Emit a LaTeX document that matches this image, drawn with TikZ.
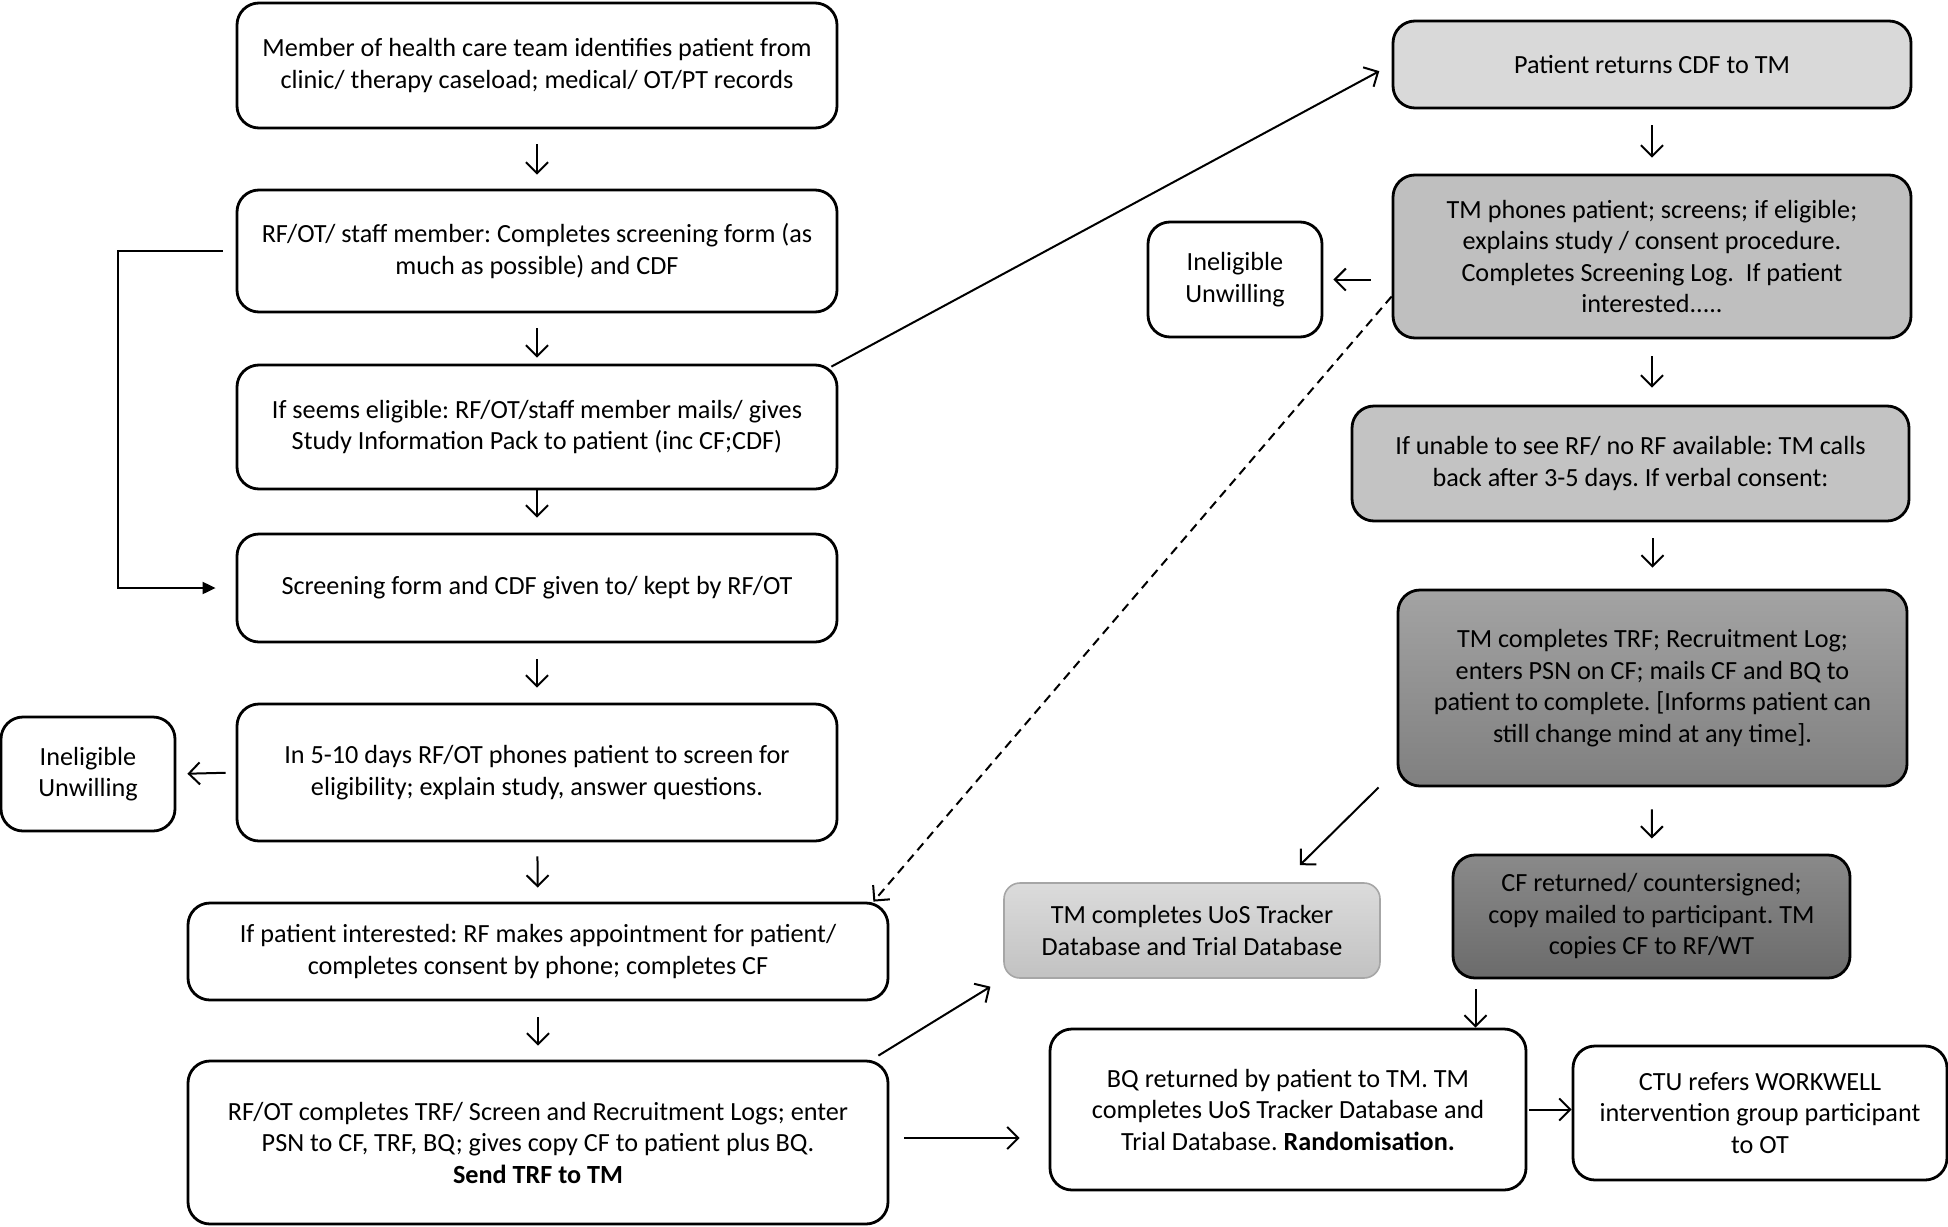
\documentclass[tikz,border=0pt]{standalone}
\usepackage{fontspec}
\setmainfont{Carlito}
\usetikzlibrary{arrows.meta}
\definecolor{greyA}{HTML}{D9D9D9}
\definecolor{greyB}{HTML}{BFBFBF}
\definecolor{greyC}{HTML}{C3C3C3}
\definecolor{greyEdge}{HTML}{A6A6A6}
\tikzset{
  stepbox/.style={draw, line width=2.8pt, rounded corners=22pt, align=center, inner sep=0pt},
  arr/.style={-{Straight Barb[length=11pt,width=22pt]}, line width=2pt},
}
\frenchspacing

\begin{document}
\begin{tikzpicture}[x=1pt, y=-1pt, font=\fontsize{26.2}{31.5}\selectfont]
\useasboundingbox (0,0) rectangle (1948,1226);
\node (b1) at (537,65.5) [stepbox, minimum width=600pt, minimum height=125pt] {Member of health care team identifies patient from\\clinic/ therapy caseload; medical/ OT/PT records};
\node (b2) at (537,251) [stepbox, minimum width=600pt, minimum height=122pt] {RF/OT/ staff member: Completes screening form (as\\much as possible) and CDF};
\node (b3) at (537,427) [stepbox, minimum width=600pt, minimum height=124pt] {If seems eligible: RF/OT/staff member mails/ gives\\Study Information Pack to patient (inc CF;CDF)};
\node (b4) at (537,588) [stepbox, minimum width=600pt, minimum height=108pt] {Screening form and CDF given to/ kept by RF/OT};
\node (b5) at (537,772.5) [stepbox, minimum width=600pt, minimum height=137pt] {In 5-10 days RF/OT phones patient to screen for\\eligibility; explain study, answer questions.};
\node (in1) at (88,774) [stepbox, minimum width=174pt, minimum height=114pt] {Ineligible\\Unwilling};
\node (b6) at (538,951.5) [stepbox, minimum width=700pt, minimum height=97pt] {If patient interested: RF makes appointment for patient/\\completes consent by phone; completes CF};
\node (b7) at (538,1142.5) [stepbox, minimum width=700pt, minimum height=163pt] {RF/OT completes TRF/ Screen and Recruitment Logs; enter\\PSN to CF, TRF, BQ; gives copy CF to patient plus BQ.\\\textbf{Send TRF to TM}};
\node (r1) at (1652,64.5) [stepbox, fill=greyA, minimum width=518pt, minimum height=87pt] {Patient returns CDF to TM};
\node (r2) at (1652,256.5) [stepbox, fill=greyB, minimum width=518pt, minimum height=163pt] {TM phones patient; screens; if eligible;\\explains study / consent procedure.\\Completes Screening Log.\ \ If patient\\interested.....};
\node (in2) at (1235,279.5) [stepbox, minimum width=174pt, minimum height=115pt] {Ineligible\\Unwilling};
\node (r3) at (1630.5,463.5) [stepbox, fill=greyC, minimum width=557pt, minimum height=115pt] {If unable to see RF/ no RF available: TM calls\\back after 3-5 days. If verbal consent:};
\node (r4) at (1652.5,688) [stepbox, top color=black!36, bottom color=black!50, minimum width=509pt, minimum height=196pt] {TM completes TRF; Recruitment Log;\\enters PSN on CF; mails CF and BQ to\\patient to complete. [Informs patient can\\still change mind at any time].};
\node (r5) at (1651.5,916.5) [stepbox, top color=black!46, bottom color=black!58, minimum width=397pt, minimum height=123pt] {CF returned/ countersigned;\\copy mailed to participant. TM\\copies CF to RF/WT};
\node (uos) at (1192,930.5) [stepbox, draw=greyEdge, line width=1.6pt, rounded corners=16pt, top color=black!14, bottom color=black!24, minimum width=376pt, minimum height=95pt] {TM completes UoS Tracker\\Database and Trial Database};
\node (bq) at (1288,1109.5) [stepbox, minimum width=476pt, minimum height=161pt] {BQ returned by patient to TM. TM\\completes UoS Tracker Database and\\Trial Database. \textbf{Randomisation.}};
\node (ctu) at (1760,1113) [stepbox, minimum width=374pt, minimum height=134pt] {CTU refers WORKWELL\\intervention group participant\\to OT};

\draw[arr, shorten <=15pt, shorten >=14pt] (b1) -- (b2);
\draw[arr, shorten <=15pt, shorten >=6pt] (b2) -- (b3);
\draw[arr, shorten >=15pt] (b3) -- (b4);
\draw[arr, shorten <=16pt, shorten >=15pt] (b4) -- (b5);
\draw[arr, shorten <=14pt, shorten >=14pt] (b5) -- (b6);
\draw[arr, shorten <=16pt, shorten >=14pt] (b6) -- (b7);
\draw[arr, shorten <=10pt, shorten >=11pt] (b5.west) -- (in1.east);
\draw[-{Triangle[length=13pt,width=12pt]}, line width=2pt, shorten <=13pt, shorten >=20pt] (b2.west) -- ++(-118,0) |- (b4.west);
\draw[arr, shorten >=14pt] ([xshift=-7pt,yshift=-3pt]b3.north east) -- (r1.west);
\draw[arr, dash pattern=on 9pt off 6pt] ([yshift=-40pt]r2.west) -- ([xshift=-16pt]b6.north east);
\draw[arr, shorten <=16pt, shorten >=16pt] (r1) -- (r2);
\draw[arr, shorten <=21pt, shorten >=10pt] (in2.east -| r2.west) -- (in2.east);
\draw[arr, shorten <=17pt, shorten >=17pt] (r2.south) -- (r2.south |- r3.north);
\draw[arr, shorten <=16pt, shorten >=21pt] (r4.north |- r3.south) -- (r4.north);
\draw[arr, shorten <=22pt, shorten >=15pt] (r4) -- (r5);
\draw[arr] ([xshift=-18pt]r4.south west) -- ([xshift=-81pt,yshift=17pt]uos.north east);
\draw[arr, shorten <=10pt] ([xshift=-176pt]r5.south) -- ([xshift=-176pt]r5.south |- bq.north);
\draw[arr, shorten >=15pt] ([xshift=-11pt,yshift=4pt]b7.north east) -- (uos.south west);
\draw[arr, shorten <=15pt, shorten >=29pt] ([yshift=4.5pt]b7.east) -- ([yshift=4.5pt]b7.east -| bq.west);
\draw[arr, shorten <=2pt] (bq.east) -- (bq.east -| ctu.west);
\end{tikzpicture}
\end{document}
